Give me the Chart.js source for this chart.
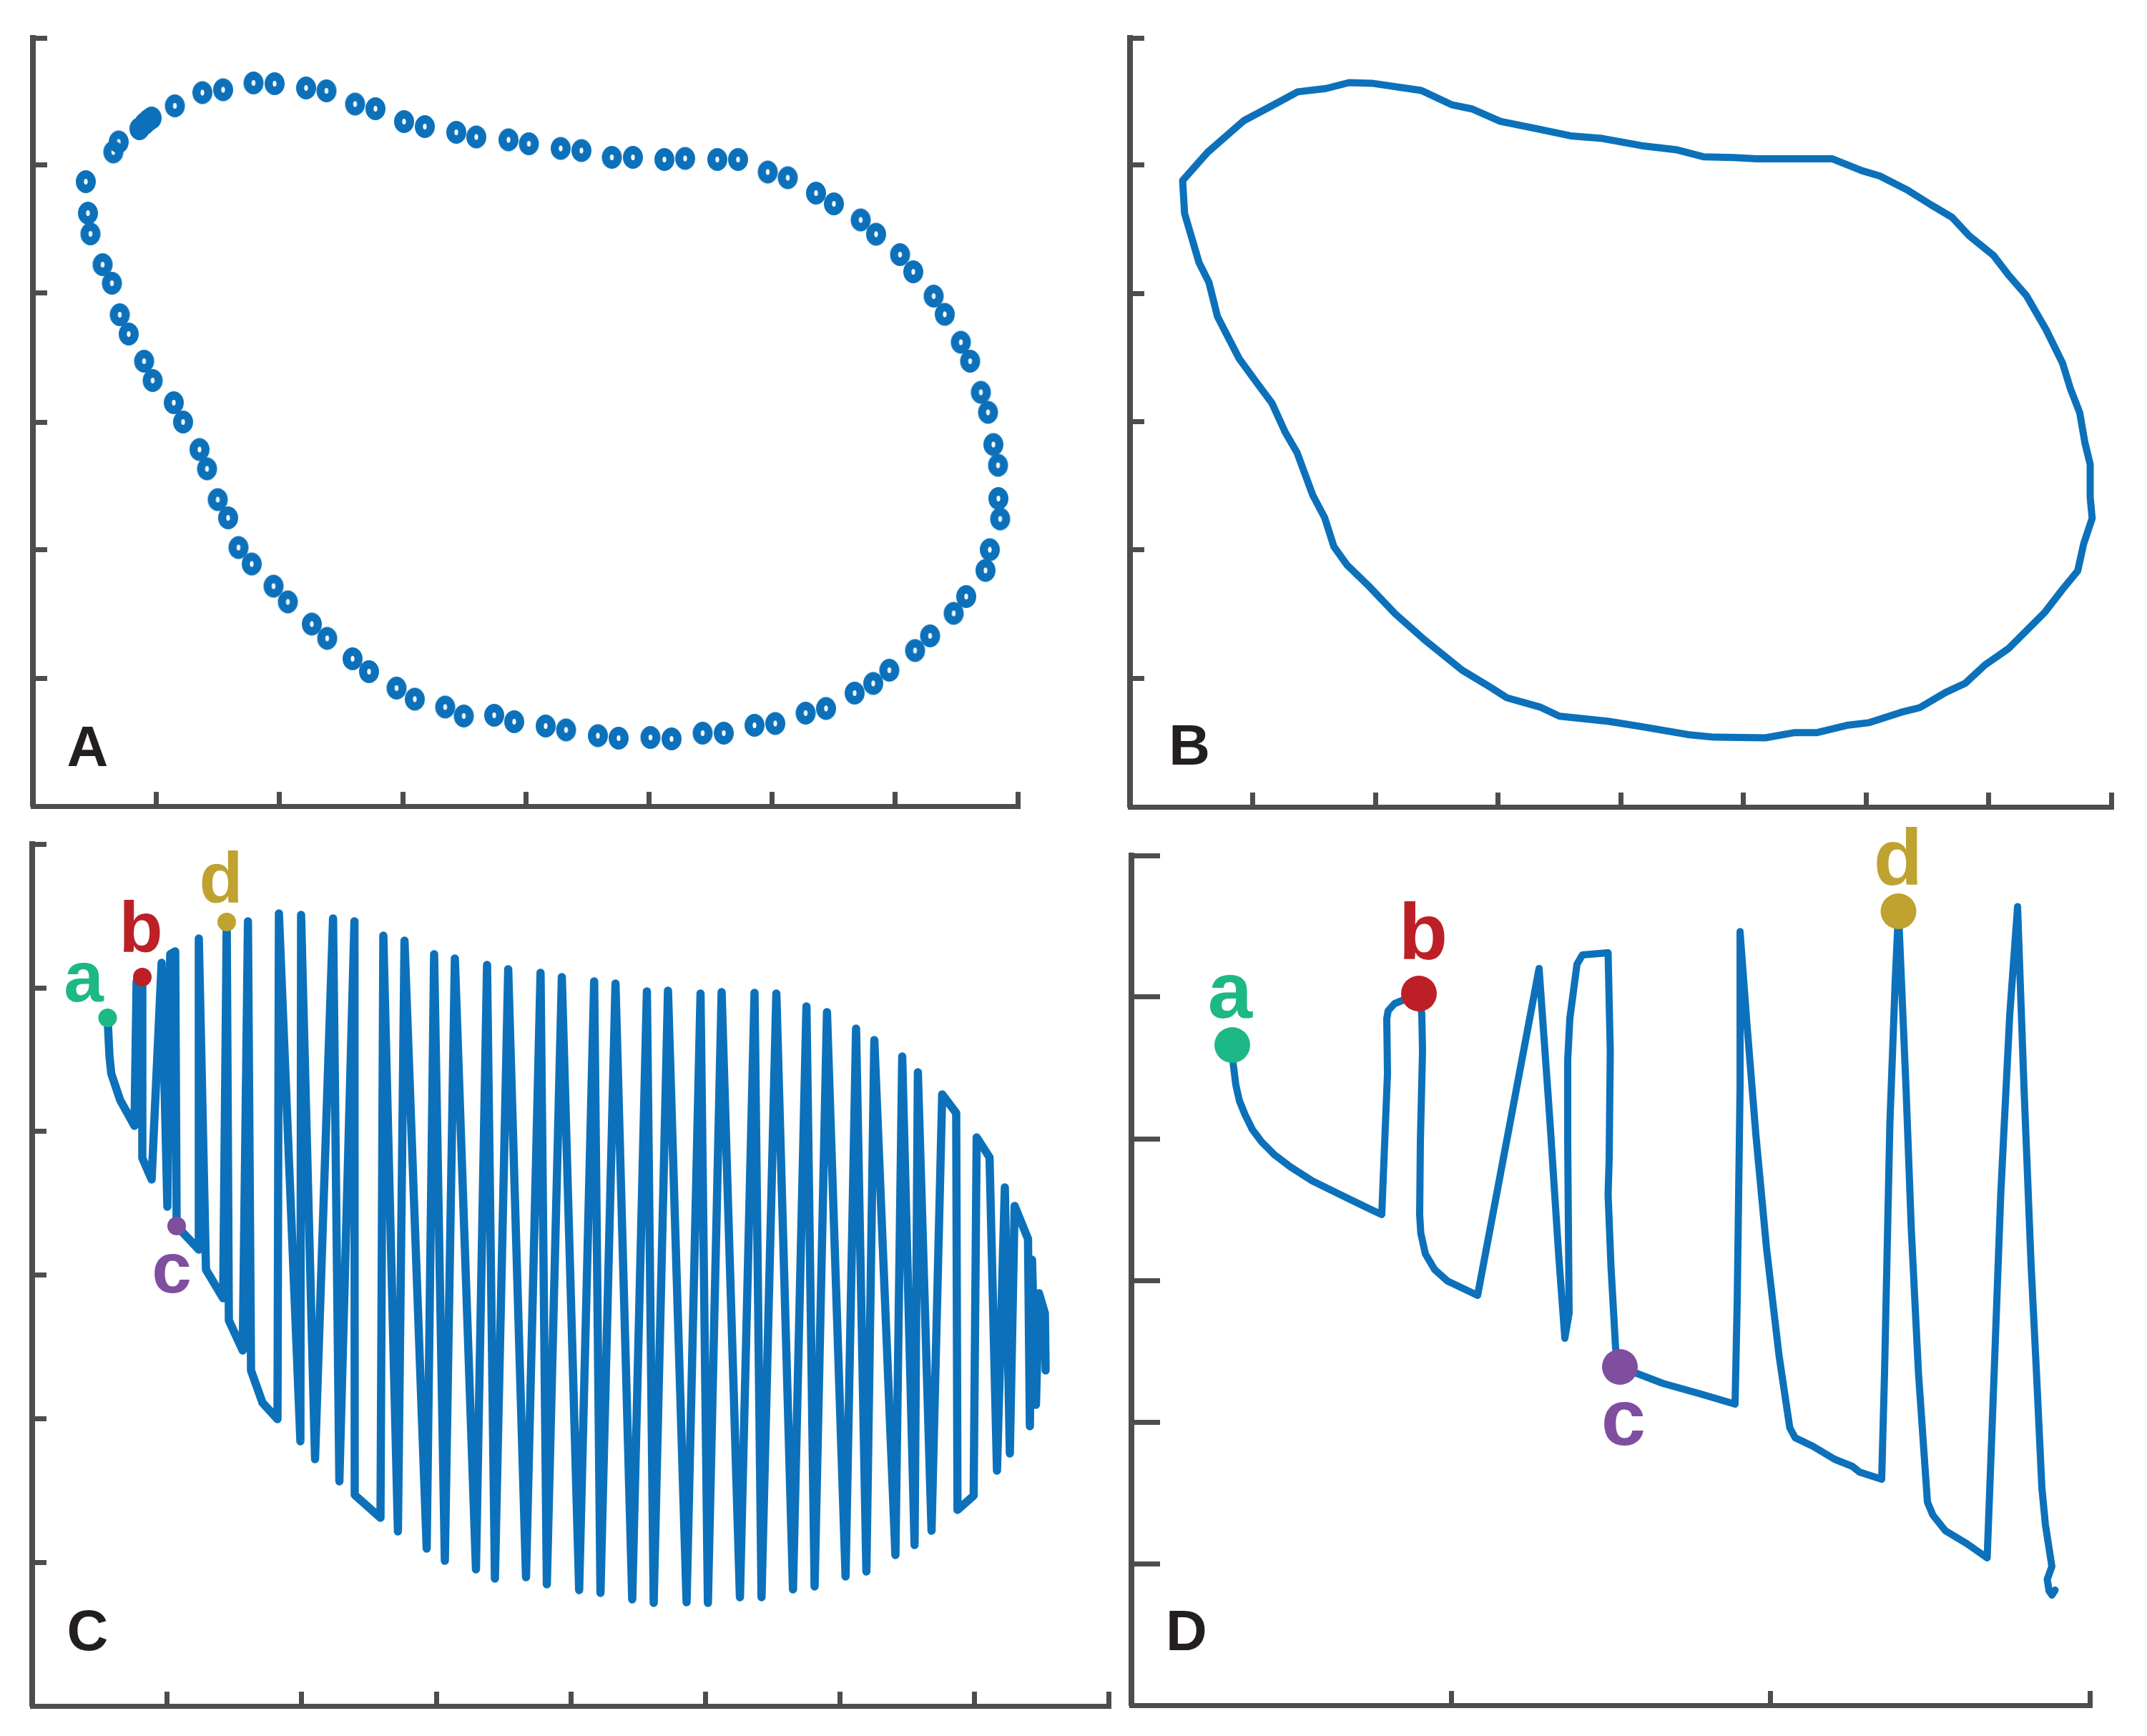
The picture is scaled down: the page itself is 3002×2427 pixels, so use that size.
<!DOCTYPE html>
<html><head><meta charset="utf-8">
<style>html,body{margin:0;padding:0;background:#fff}canvas{position:absolute;left:0;top:0}</style>
<script src="https://cdn.jsdelivr.net/npm/chart.js@4"></script>
</head><body>
<canvas id="pA" width="3002" height="2427"></canvas>
<canvas id="pB" width="3002" height="2427"></canvas>
<canvas id="pC" width="3002" height="2427"></canvas>
<canvas id="pD" width="3002" height="2427"></canvas>
<script>
const ringSamples=[[74,873],[77,829],[80.5,800],[97.5,757],[110.5,731],[121.5,687],[134,660],[155.5,622],[167.5,595],[197,564],[210,537],[233,498.5],[243.5,471.5],[258.5,428.5],[273,403],[287.5,361.5],[306,338.5],[336.5,307.5],[356.5,285.5],[390,254.5],[411.5,234.5],[447,206],[470,188],[508.5,165],[534,149.5],[576.5,138.5],[602.5,126],[645,127],[673,118],[717,112],[745.5,106.5],[790,98.5],[819,95],[863.5,96],[893,94],[936.5,102],[966,102],[1009,113],[1038,115.5],[1080.5,130],[1109,136.5],[1149,158],[1175,171.5],[1197.5,190],[1233.5,217.5],[1254.5,238],[1287.5,269.5],[1305,293],[1332,329.5],[1338,358.5],[1352.5,401.5],[1350,430],[1349.5,476.5],[1343,505.5],[1335.5,550.5],[1325.5,578.5],[1310.5,622],[1297.5,648.5],[1275,687.5],[1259.5,713],[1231,747],[1212.5,771],[1179,799.5],[1157.5,819.5],[1120,842],[1095,857],[1055.5,878.5],[1027.5,886.5],[986,904],[957,904],[912,905.5],[883,904],[839,907],[809.5,907],[767,916.5],[738,919.5],[693.5,926],[665,931.5],[620,935.5],[592,942],[548,950],[519,957],[479,975],[450.5,981.5],[410.5,1000],[382,1004],[338,1010],[308.5,1011],[266,1001.5],[237,997.5],[198.5,979],[166,962],[161,958.5],[156,954],[149,947],[120,928.5],[112.5,914.5]];
const outline=[[80,953],[118,996],[173,1044],[218,1068],[255,1088],[298,1093],[333,1102],[368,1101],[443,1090],[490,1068],[520,1062],[563,1043],[618,1032],[670,1021],[718,1017],[778,1006],[830,1000],[873,989],[918,988],[953,986],[1008,986],[1068,986],[1113,968],[1140,960],[1183,938],[1218,916],[1250,897],[1276,869],[1313,839],[1336,809],[1363,778],[1393,726],[1418,675],[1430,636],[1444,600],[1452,554],[1460,521],[1460,471],[1463,439],[1450,400],[1441,359],[1418,331],[1391,296],[1336,241],[1300,216],[1270,188],[1240,174],[1201,151],[1173,144],[1123,128],[1090,124],[1045,113],[1011,113],[966,105],[888,106],[848,110],[778,122],[728,130],[653,138],[623,152],[573,166],[548,182],[505,208],[448,254],[403,294],[363,336],[330,368],[310,396],[296,440],[278,474],[254,539],[236,570],[216,614],[193,645],[166,682],[133,746],[120,798],[105,828],[83,903],[80,953]];
const traceC=[[105.5,962],[108,909],[110.6,884],[123,847],[143,811],[146,1013],[154,1019],[154,766],[167,736],[181,1039],[189,698],[193,1051],[200,1055],[202,671],[233,638],[233,1073],[243,610],[267,570],[272,1096],[275,539],[294.4,497],[301.7,1097],[306,469],[322,424],[343,401],[345,1108],[375,370],[376,1106],[395.5,345],[420.7,1101],[429.5,314],[450.6,1097],[451,295],[487,263],[491,1077],[511.4,244],[520.6,1070],[551.6,220],[562,1051],[577,203],[591,1045],[620.5,191],[636,1036],[647,178],[665.6,1030],[690.5,180],[710.8,1025],[719.6,170],[740.6,1019],[764.8,162],[785.8,1013],[794.6,158],[815.6,1010],[839,149],[859.5,999],[869,144],[889,1000],[915,145],[934.5,996],[944.8,144],[964,998],[989.6,152],[1010,997],[1019.8,152],[1040.5,996],[1063.8,163],[1082.6,978],[1094,167],[1111.3,970],[1137.3,181],[1152,947],[1166.4,188],[1177.5,931],[1207,211],[1216.5,908],[1233.8,225],[1238.4,886],[1257.5,245],[1272.4,855],[1292,829],[1293.8,274],[1316.4,294],[1320.6,795],[1338.6,767],[1349,329],[1360,725],[1367,353],[1373.7,699],[1392.4,653],[1395,391],[1398,624],[1403.5,421],[1407.7,577],[1416,549],[1417,469]];
const traceD=[[141,923],[142.4,896],[146,867],[151,845],[158.7,826],[169,805],[181.7,788],[199.5,770],[222.5,752.5],[253,733],[304,708],[335,693],[350,686],[358,883],[357,960],[359,971],[368,981],[378,985],[402,995],[406,966],[407,915],[404,788],[403,686],[404.6,660],[411,631],[424,609],[442,593],[462,583.5],[484,573],[570,1030],[585,819],[597.5,628],[606,513],[612,548],[610,788],[610,902],[613,960],[623,1036],[630.6,1049],[666.5,1052],[669.5,914],[668,764],[666.5,714],[670.5,614],[677,499],[683,473],[743,450],[793,436],[844,421],[847,564],[851,864],[851,1081.5],[860.5,954],[873,799],[888,639],[905.5,489],[920.5,388],[928,374],[953,362],[983,344],[1008,334],[1018,326],[1049,316],[1053,464],[1060.5,814],[1068,1014],[1072.5,1110],[1083,864],[1090.5,664],[1100.5,464],[1113,284],[1120.5,266],[1138,244],[1168,226],[1196.5,206],[1205.5,444],[1215.5,714],[1228,964],[1239,1116.5],[1248,864],[1258,614],[1265.5,464],[1273,304],[1278,252],[1287,194],[1280.5,176],[1283,160],[1287,154],[1291.5,161]];
const keyNames=['a','b','c','d'];
const keyPointsC=[[105.5,962],[154,1019],[202,671],[272,1096]];
const keyPointsD=[[141,923],[402,995],[683,473],[1072.5,1110]];
const keyLabelsC=[[72,985],[152,1054],[195,578],[264,1123]];
const keyLabelsD=[[138,961],[408,1043],[688,364],[1072,1147]];
const panelLetters=['A','B','C','D'];
const letterAnchors=[[76.5,56],[90.5,64],[77.5,78],[77,77]];
const ticksAX=[172,344,517,689,861,1033,1205,1377.6];
const ticksAY=[179,359,537,717,897,1074];
const ticksBX=[186.5,373,559.5,746,932.5,1119,1305.5,1492];
const ticksBY=[195,391,586,781,977,1170];
const ticksCX=[188,376,565,753,941,1129,1317,1505];
const ticksCY=[201,402,603,804,1004,1205];
const ticksDX=[447,893,1340];
const ticksDY=[198,396,594,792,991,1188];

const BLUE='#0C71BA', AXIS='#4D4D4F', INK='#231F20';
const KEY=['#1CB886','#BC2026','#7F4E9F','#BFA22F'];
const toXY=a=>a.map(p=>({x:p[0],y:p[1]}));

const ring=document.createElement('canvas');ring.width=30;ring.height=34;
(()=>{const c=ring.getContext('2d');c.fillStyle=BLUE;c.beginPath();
c.ellipse(15,17,14,16,0,0,Math.PI*2);c.ellipse(15,17,2.6,4,0,0,Math.PI*2);c.fill('evenodd');})();

const textPlugin={id:'panelText',afterDatasetsDraw(ch,_a,o){
  const c=ch.ctx,X=ch.scales.x,Y=ch.scales.y;c.save();c.textAlign='center';c.textBaseline='alphabetic';
  (o.items||[]).forEach(t=>{c.font=t.font;c.fillStyle=t.color;
    c.fillText(t.text,X.getPixelForValue(t.at[0]),Y.getPixelForValue(t.at[1]));});
  c.restore();}};

function panel(id,box,xR,yR,xT,yT,datasets,items,yTickLen){
  const mkScale=(max,vals,horiz,len,bw)=>({type:'linear',min:0,max,display:true,
    border:{display:true,width:bw,color:AXIS},
    grid:{drawOnChartArea:false,drawTicks:true,tickLength:-len,tickWidth:7,tickColor:AXIS,color:AXIS},
    ticks:{display:false,autoSkip:false,maxRotation:0},
    afterBuildTicks(s){s.ticks=vals.map(v=>({value:v}));},
    afterFit(s){if(horiz)s.height=0;else s.width=0;}});
  return new Chart(document.getElementById(id),{type:'scatter',plugins:[textPlugin],
    data:{datasets},
    options:{responsive:false,animation:false,devicePixelRatio:1,
      layout:{padding:{left:box.l,top:box.t,right:3002-box.r,bottom:2427-box.b}},
      plugins:{legend:{display:false},tooltip:{enabled:false},panelText:{items}},
      elements:{line:{tension:0}},
      scales:{x:mkScale(xR,xT,true,20,7),y:mkScale(yR,yT,false,yTickLen,8)}}});
}
const lineSet=(a,w)=>({data:toXY(a),showLine:true,borderColor:BLUE,borderWidth:w,pointRadius:0,
  borderJoinStyle:'round',borderCapStyle:'round',clip:false,order:2});
const keySet=(a,r)=>({data:toXY(a),showLine:false,pointRadius:r,pointBorderWidth:0,
  pointBackgroundColor:KEY,clip:false,order:1});
const letter=i=>({text:panelLetters[i],at:letterAnchors[i],font:'bold 80px "Liberation Sans"',color:INK});
const keyText=(pos,size)=>keyNames.map((t,i)=>({text:t,at:pos[i],font:`bold ${size}px "Liberation Sans"`,color:KEY[i]}));

panel('pA',{l:46,r:1423.6,t:53,b:1127},1377.6,1074,ticksAX,ticksAY,
  [{data:toXY(ringSamples),showLine:false,pointStyle:ring,clip:false}],[letter(0)],20);
panel('pB',{l:1580,r:2952,t:53,b:1128},1492,1170,ticksBX,ticksBY,[lineSet(outline,10)],[letter(1)],20);
panel('pC',{l:45,r:1550,t:1180,b:2385},1505,1205,ticksCX,ticksCY,
  [keySet(keyPointsC,13),lineSet(traceC,11.5)],[letter(2),...keyText(keyLabelsC,100)],20);
panel('pD',{l:1582,r:2922,t:1196,b:2384},1340,1188,ticksDX,ticksDY,
  [keySet(keyPointsD,25),lineSet(traceD,10)],[letter(3),...keyText(keyLabelsD,112)],40);
</script>
</body></html>
